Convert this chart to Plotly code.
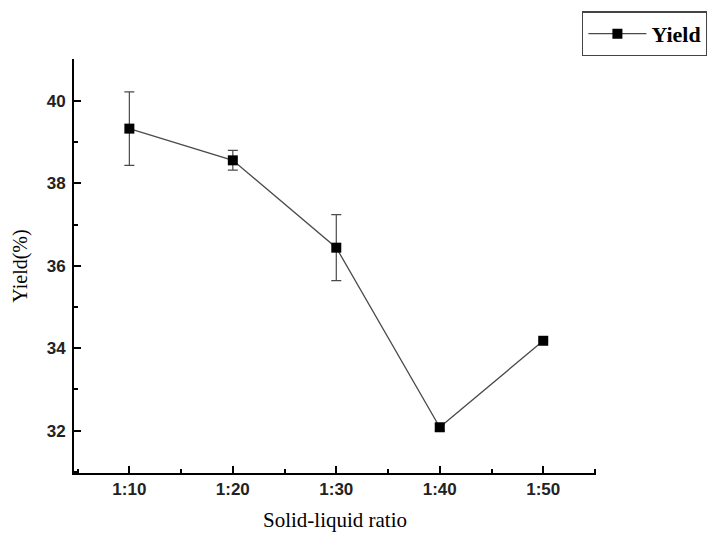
import plotly.graph_objects as go

categories = ["1:10", "1:20", "1:30", "1:40", "1:50"]
yield_values = [39.33, 38.56, 36.44, 32.08, 34.18]
yield_errors = [0.89, 0.24, 0.80, 0.08, 0.0]
series_name = "Yield"

x_pos = list(range(len(categories)))

fig = go.Figure()
fig.add_trace(go.Scatter(
    x=x_pos, y=yield_values, name=series_name, mode="lines+markers",
    line=dict(color="#4a4a4a", width=1.3),
    marker=dict(symbol="square", size=10, color="black"),
    error_y=dict(type="data", array=yield_errors, visible=True,
                 color="#4a4a4a", thickness=1.2, width=5),
    showlegend=True,
))

fig.update_layout(
    width=707, height=534,
    paper_bgcolor="white", plot_bgcolor="white",
    margin=dict(l=74, r=111, t=59, b=61, autoexpand=False),
    showlegend=True,
    legend=dict(x=0.973, y=1.115, xanchor="left", yanchor="top",
                bgcolor="white", bordercolor="#444", borderwidth=1.5,
                font=dict(family="Liberation Serif", size=22, color="black",
                          weight="bold"),
                itemwidth=58),
    font=dict(family="Liberation Sans", color="black"),
)

fig.update_xaxes(
    range=[-0.535, 4.51], tickmode="array", tickvals=x_pos, ticktext=categories,
    showgrid=False, zeroline=False,
    showline=True, linecolor="black", linewidth=2,
    ticks="inside", ticklen=7, tickwidth=2, tickcolor="black",
    tickfont=dict(family="Liberation Sans", size=17, color="#222", weight="bold"),
    minor=dict(tickmode="linear", tick0=0.5, dtick=1, ticks="inside",
               ticklen=4, tickwidth=2, tickcolor="black", showgrid=False),
    title=dict(text="Solid-liquid ratio", standoff=14,
               font=dict(family="Liberation Serif", size=21, color="black")),
)
fig.update_yaxes(
    range=[30.97, 41.02], tickmode="linear", tick0=32, dtick=2,
    showgrid=False, zeroline=False,
    showline=True, linecolor="black", linewidth=2,
    ticks="inside", ticklen=7, tickwidth=2, tickcolor="black",
    ticklabelstandoff=3,
    tickfont=dict(family="Liberation Sans", size=17, color="#222", weight="bold"),
    minor=dict(tickmode="linear", tick0=31, dtick=1, ticks="inside",
               ticklen=4, tickwidth=2, tickcolor="black", showgrid=False),
    title=dict(text="Yield(%)", standoff=14,
               font=dict(family="Liberation Serif", size=20, color="black")),
)

fig.write_html("out.html", config={"displayModeBar": False},
               post_script="document.body.style.margin='0';")
